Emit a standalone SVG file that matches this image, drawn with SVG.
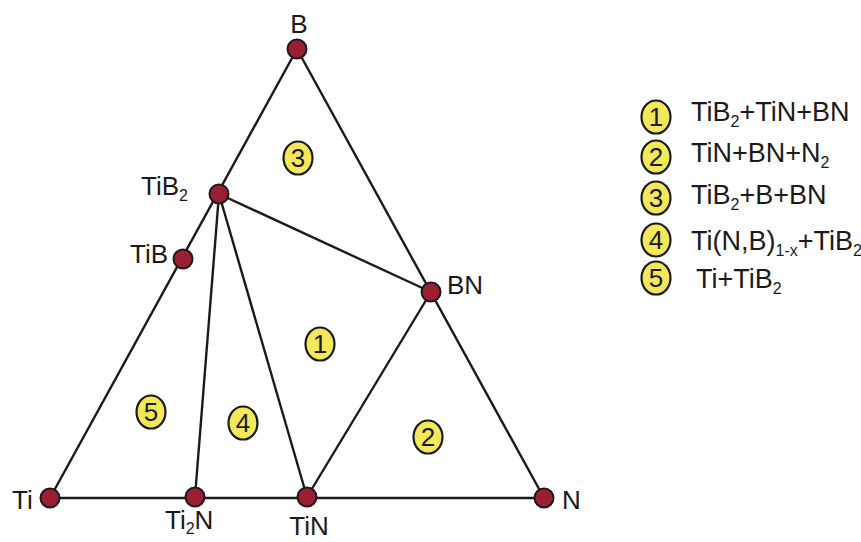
<svg xmlns="http://www.w3.org/2000/svg" width="861" height="542" viewBox="0 0 861 542">
  <style>
    .edge { stroke: #1a1a1a; stroke-width: 2.4; fill: none; stroke-linecap: round; }
    .node { fill: #9b1e32; stroke: #1a1a1a; stroke-width: 2; }
    .tag { fill: #f2e85a; stroke: #1a1a1a; stroke-width: 2.2; }
    .lbl { font-family: "Liberation Sans", Arial, sans-serif; font-size: 26px; fill: #1a1a1a; }
    .num { font-family: "Liberation Sans", Arial, sans-serif; font-size: 26px; fill: #1a1a1a; text-anchor: middle; }
    .leg { font-family: "Liberation Sans", Arial, sans-serif; font-size: 27px; fill: #1a1a1a; }
    .sub { font-size: 16px; }
  </style>
  <rect width="861" height="542" fill="#ffffff"/>

  <!-- phase boundaries -->
  <g id="connectors">
    <line class="edge" x1="297" y1="49" x2="50" y2="498"/>
    <line class="edge" x1="297" y1="49" x2="544" y2="498"/>
    <line class="edge" x1="50" y1="498" x2="544" y2="498"/>
    <line class="edge" x1="219" y1="194" x2="431" y2="292"/>
    <line class="edge" x1="219" y1="194" x2="195" y2="497"/>
    <line class="edge" x1="219" y1="194" x2="307" y2="497"/>
    <line class="edge" x1="431" y1="292" x2="307" y2="497"/>
  </g>

  <!-- compositions -->
  <g id="node-B">
    <circle class="node" cx="297" cy="49" r="9.5"/>
    <text class="lbl" x="299" y="33" text-anchor="middle">B</text>
  </g>
  <g id="node-TiB2">
    <circle class="node" cx="219" cy="194" r="9.5"/>
    <text class="lbl" x="141" y="195">TiB<tspan class="sub" dy="6">2</tspan></text>
  </g>
  <g id="node-TiB">
    <circle class="node" cx="183" cy="259" r="9.5"/>
    <text class="lbl" x="130" y="263">TiB</text>
  </g>
  <g id="node-BN">
    <circle class="node" cx="431" cy="292" r="9.5"/>
    <text class="lbl" x="447" y="294">BN</text>
  </g>
  <g id="node-Ti">
    <circle class="node" cx="50" cy="498" r="9.5"/>
    <text class="lbl" x="12" y="509">Ti</text>
  </g>
  <g id="node-Ti2N">
    <circle class="node" cx="195" cy="497" r="9.5"/>
    <text class="lbl" x="165" y="529">Ti<tspan class="sub" dy="5">2</tspan><tspan dy="-5">N</tspan></text>
  </g>
  <g id="node-TiN">
    <circle class="node" cx="307" cy="497" r="9.5"/>
    <text class="lbl" x="309" y="535" text-anchor="middle">TiN</text>
  </g>
  <g id="node-N">
    <circle class="node" cx="544" cy="498" r="9.5"/>
    <text class="lbl" x="562" y="509">N</text>
  </g>

  <!-- phase field markers -->
  <g id="field-3">
    <ellipse class="tag" cx="298" cy="158" rx="14.5" ry="16.5"/>
    <text class="num" x="298" y="167">3</text>
  </g>
  <g id="field-1">
    <ellipse class="tag" cx="320" cy="344" rx="14.5" ry="16.5"/>
    <text class="num" x="320" y="353">1</text>
  </g>
  <g id="field-5">
    <ellipse class="tag" cx="151" cy="412" rx="14.5" ry="16.5"/>
    <text class="num" x="151" y="421">5</text>
  </g>
  <g id="field-4">
    <ellipse class="tag" cx="243" cy="423" rx="14.5" ry="16.5"/>
    <text class="num" x="243" y="432">4</text>
  </g>
  <g id="field-2">
    <ellipse class="tag" cx="428" cy="437" rx="14.5" ry="16.5"/>
    <text class="num" x="428" y="446">2</text>
  </g>

  <!-- legend -->
  <g id="legend">
    <ellipse class="tag" cx="656" cy="117" rx="14.5" ry="16.5"/>
    <text class="num" x="656" y="126">1</text>
    <text class="leg" x="691" y="121">TiB<tspan class="sub" dy="6">2</tspan><tspan dy="-6">+TiN+BN</tspan></text>

    <ellipse class="tag" cx="656" cy="157" rx="14.5" ry="16.5"/>
    <text class="num" x="656" y="166">2</text>
    <text class="leg" x="691" y="162">TiN+BN+N<tspan class="sub" dy="6">2</tspan></text>

    <ellipse class="tag" cx="656" cy="198" rx="14.5" ry="16.5"/>
    <text class="num" x="656" y="207">3</text>
    <text class="leg" x="691" y="204">TiB<tspan class="sub" dy="6">2</tspan><tspan dy="-6">+B+BN</tspan></text>

    <ellipse class="tag" cx="656" cy="240" rx="14.5" ry="16.5"/>
    <text class="num" x="656" y="249">4</text>
    <text class="leg" x="691" y="250">Ti(N,B)<tspan class="sub" dy="6">1-x</tspan><tspan dy="-6">+TiB</tspan><tspan class="sub" dy="6">2</tspan></text>

    <ellipse class="tag" cx="656" cy="278" rx="14.5" ry="16.5"/>
    <text class="num" x="656" y="287">5</text>
    <text class="leg" x="696" y="288">Ti+TiB<tspan class="sub" dy="6">2</tspan></text>
  </g>
</svg>
